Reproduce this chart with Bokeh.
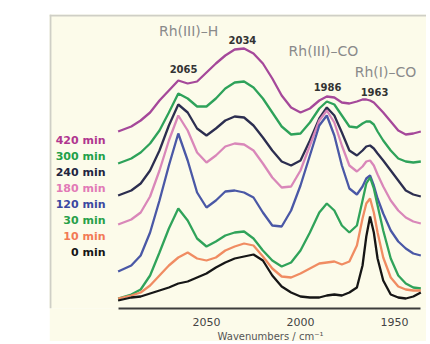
from bokeh.plotting import figure
from bokeh.models import Range1d, Span, FixedTicker, Spacer, Title
from bokeh.layouts import column, row
from bokeh.embed import file_html
from bokeh.resources import INLINE
from bokeh.core.properties import value

# ---- data (offset absorbance, arbitrary units) ----
wavenumbers = [2097, 2090, 2085, 2080, 2075, 2070, 2065, 2060, 2055, 2050, 2045, 2040,
               2035, 2030, 2025, 2020, 2015, 2010, 2005, 2000, 1995, 1990, 1986, 1982,
               1978, 1974, 1970, 1967, 1965, 1963, 1961, 1959, 1956, 1952, 1948, 1944,
               1940, 1936]

a_420 = [177, 182, 188, 196, 208, 218, 228, 225, 227, 236, 245, 253, 259, 260, 255, 245,
         230, 213, 201, 196, 200, 208, 212, 211, 206, 205, 207, 209, 209, 208, 206, 202,
         196, 187, 178, 174, 175, 177]
a_300 = [145, 150, 156, 165, 178, 196, 215, 210, 202, 202, 210, 220, 226, 227, 221, 210,
         196, 182, 174, 175, 186, 200, 207, 204, 193, 182, 181, 185, 187, 187, 184, 177,
         168, 158, 150, 147, 146, 147]
a_240 = [113, 118, 125, 138, 158, 183, 204, 196, 180, 173, 180, 188, 192, 191, 183, 171,
         158, 147, 143, 148, 168, 190, 201, 193, 176, 158, 153, 158, 162, 163, 160, 155,
         148, 138, 128, 118, 114, 112]
a_180 = [84, 89, 96, 112, 138, 168, 193, 178, 156, 146, 153, 162, 165, 164, 158, 145,
         131, 121, 122, 138, 163, 188, 198, 186, 163, 143, 137, 142, 147, 148, 143, 134,
         122, 108, 98, 91, 87, 85]
a_120 = [37, 43, 53, 76, 108, 143, 175, 148, 116, 101, 108, 117, 118, 116, 111, 96,
         83, 82, 98, 123, 153, 183, 193, 173, 143, 120, 114, 122, 130, 133, 123, 110,
         95, 78, 67, 60, 55, 53]
a_30 = [10, 14, 19, 33, 56, 80, 100, 88, 70, 62, 67, 73, 76, 77, 70, 58,
        48, 42, 46, 58, 76, 96, 105, 98, 83, 76, 83, 108, 125, 131, 120, 103,
        78, 50, 33, 25, 21, 20]
a_10 = [10, 13, 16, 23, 33, 43, 51, 56, 50, 48, 51, 58, 62, 65, 63, 52,
        40, 32, 31, 35, 40, 45, 46, 47, 44, 47, 63, 90, 105, 110, 96, 76,
        51, 31, 22, 19, 18, 18]
a_0 = [8, 11, 12, 15, 18, 21, 25, 27, 31, 35, 41, 46, 50, 52, 54, 48,
       33, 22, 16, 12, 11, 11, 13, 14, 13, 16, 21, 43, 72, 92, 76, 50,
       28, 14, 11, 10, 12, 16]

series_labels = ["420 min", "300 min", "240 min", "180 min", "120 min", "30 min", "10 min", "0 min"]
series_values = [a_420, a_300, a_240, a_180, a_120, a_30, a_10, a_0]
line_colors = ["#a5489a", "#2ea25a", "#2c2e50", "#d987b9", "#4a58a6", "#30a35a", "#f08c62", "#161616"]
label_colors = ["#b0368f", "#22a048", "#22243f", "#e27ab6", "#3a48a0", "#28a048", "#f27a55", "#151515"]
label_y = [168, 152, 136, 120, 104, 88, 72, 56]

xticks = [2050, 2000, 1950]
x_title = "Wavenumbers / cm⁻¹"

ann_text = ["Rh(III)–H", "Rh(III)–CO", "Rh(I)–CO"]
ann_x = [2059.5, 1987.8, 1954.8]
ann_y = [278, 258, 237]
peak_text = ["2065", "2034", "1986", "1963"]
peak_x = [2062.2, 2030.9, 1985.6, 1960.6]
peak_y = [240, 269, 222, 217]

cream = "#fcfbea"
font = value("DejaVu Sans")

p = figure(frame_width=377, frame_height=294, x_range=Range1d(2133.5, 1932.98), y_range=Range1d(0, 294),
           output_backend="svg", toolbar_location=None, y_axis_location=None,
           min_border_left=0, min_border_right=0, min_border_top=0, min_border_bottom=0)
p.background_fill_color = cream
p.border_fill_color = cream
p.outline_line_color = None
p.grid.visible = False

ax = p.xaxis[0]
ax.ticker = FixedTicker(ticks=xticks)
ax.bounds = (1936, 2097)
ax.axis_line_width = 2
ax.axis_line_color = "#3c3c3c"
ax.major_tick_line_color = None
ax.minor_tick_line_color = None
ax.major_label_text_font = "DejaVu Sans"
ax.major_label_text_font_size = "11px"
ax.major_label_text_color = "#444444"
ax.major_label_standoff = 3

# x-axis title, placed under the tick labels and shifted to sit under the drawn axis line
p.add_layout(Title(text=x_title, align="left", offset=168, standoff=0,
                   text_font="DejaVu Sans", text_font_size="10px", text_font_style="normal",
                   text_color="#555555"), "below")

# frame border (left and top)
p.add_layout(Span(location=2133.0, dimension="height", line_color="#cfcfc6", line_width=2))
p.add_layout(Span(location=293, dimension="width", line_color="#cfcfc6", line_width=2))

for vals, col in zip(series_values, line_colors):
    p.line(wavenumbers, vals, line_color=col, line_width=2.3)

p.text(x=[2103.7] * len(series_labels), y=label_y, text=series_labels, text_color=label_colors,
       text_font=font, text_font_size="11px", text_font_style="bold",
       text_align="right", text_baseline="middle")

p.text(x=ann_x, y=ann_y, text=ann_text, text_color="#8a8a8a", text_font=font,
       text_font_size="14px", text_align="center", text_baseline="middle")
p.text(x=peak_x, y=peak_y, text=peak_text, text_color="#333333", text_font=font,
       text_font_size="10px", text_font_style="bold", text_align="center", text_baseline="middle")

layout = column(Spacer(width=426, height=14), row(Spacer(width=49, height=300), p))
open("out.html", "w").write(file_html(layout, INLINE))
